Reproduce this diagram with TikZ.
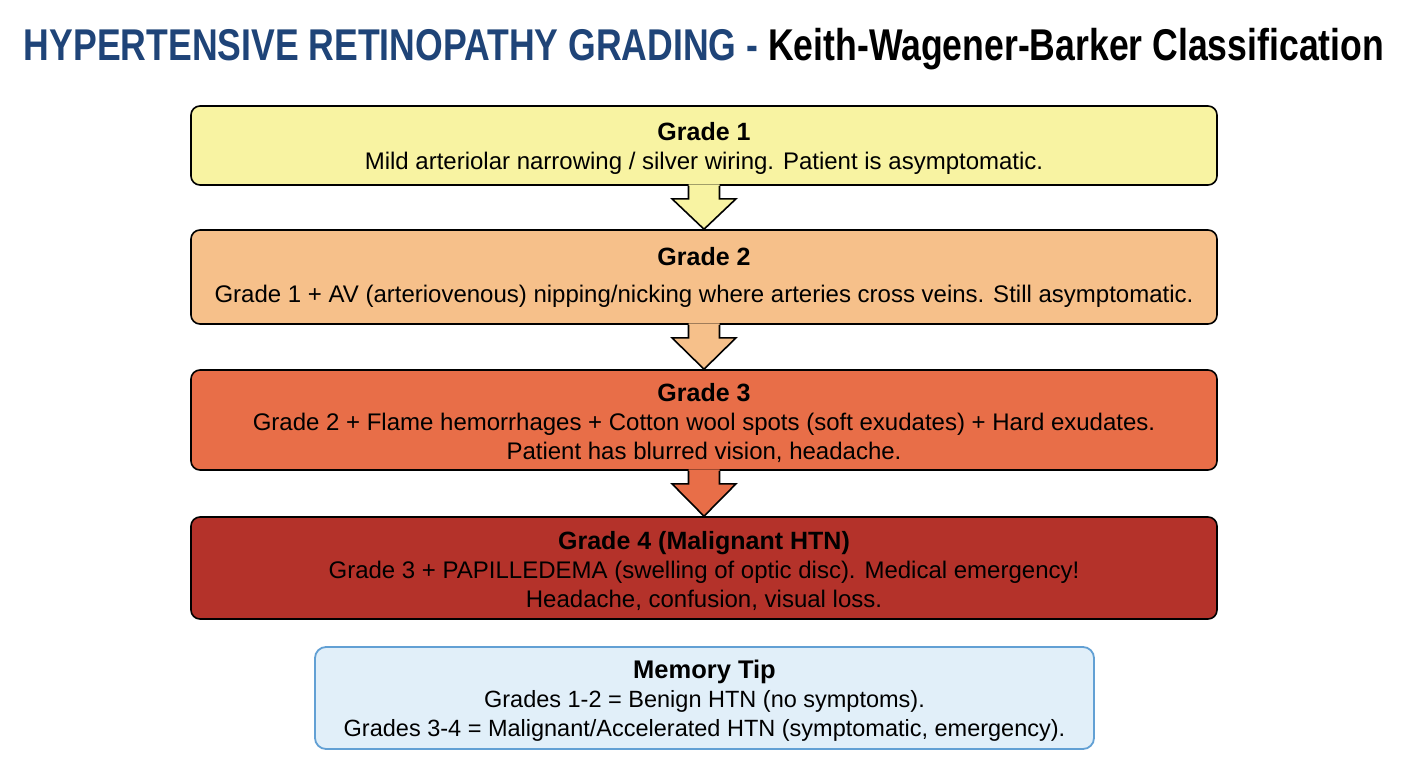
\documentclass[tikz,border=0pt]{standalone}
\usepackage{fontspec}
\setmainfont{Liberation Sans}
\newfontfamily\titlefont[FakeStretch=0.8]{Liberation Sans}
\usetikzlibrary{calc}

\definecolor{titleblue}{RGB}{31,68,120}
\definecolor{gradeone}{RGB}{248,243,162}
\definecolor{gradetwo}{RGB}{246,192,138}
\definecolor{gradethree}{RGB}{232,110,72}
\definecolor{gradefour}{RGB}{180,50,42}
\definecolor{tipfill}{RGB}{225,239,249}
\definecolor{tipline}{RGB}{98,160,212}

\begin{document}
\begin{tikzpicture}[x=1pt, y=-1pt,
    gradebox/.style={draw=black, line width=1.6pt, rounded corners=9pt,
        minimum width=1026pt, align=center, font=\fontsize{24}{29}\selectfont},
    tipbox/.style={draw=tipline, fill=tipfill, line width=1.8pt, rounded corners=11pt,
        minimum width=779pt, minimum height=102pt, align=center,
        font=\fontsize{23.5}{29}\selectfont}]
    \useasboundingbox (0,0) rectangle (1408,768);

    % Title
    \node (title) at (704,49) {\titlefont\fontsize{44.5}{50}\selectfont\bfseries
        \textcolor{titleblue}{HYPERTENSIVE RETINOPATHY GRADING -} Keith-Wagener-Barker Classification};

    % Grade boxes
    \node[gradebox, fill=gradeone, minimum height=79pt] (g1) at (704,145.5)
        {\rule{0pt}{24pt}{\fontsize{25}{29}\selectfont\bfseries Grade 1}\\
         Mild arteriolar narrowing / silver wiring. Patient is asymptomatic.};
    \node[gradebox, fill=gradetwo, minimum height=94pt] (g2) at (704,277)
        {{\fontsize{25}{29}\selectfont\bfseries Grade 2}\\[8pt]
         Grade 1 + AV (arteriovenous) nipping/nicking where arteries cross veins. Still asymptomatic.};
    \node[gradebox, fill=gradethree, minimum height=100pt] (g3) at (704,420)
        {\rule{0pt}{24pt}{\fontsize{25}{29}\selectfont\bfseries Grade 3}\\
         Grade 2 + Flame hemorrhages + Cotton wool spots (soft exudates) + Hard exudates.\\
         Patient has blurred vision, headache.};
    \node[gradebox, fill=gradefour, minimum height=102pt] (g4) at (704,568)
        {\rule{0pt}{24pt}{\fontsize{25}{29}\selectfont\bfseries Grade 4 (Malignant HTN)}\\
         Grade 3 + PAPILLEDEMA (swelling of optic disc). Medical emergency!\\
         Headache, confusion, visual loss.};

    % Block arrows between grades
    \foreach \from/\to/\col in {g1/g2/gradeone, g2/g3/gradetwo, g3/g4/gradethree} {
        \fill[\col] ($(\from.south)+(-15.5,-1.5)$) -- ($(\from.south)+(-15.5,13)$)
            -- ($(\from.south)+(-32,13)$) -- (\to.north) -- ($(\from.south)+(32,13)$)
            -- ($(\from.south)+(15.5,13)$) -- ($(\from.south)+(15.5,-1.5)$) -- cycle;
        \draw[line width=1.6pt, line join=miter] ($(\from.south)+(-15.5,0)$) -- ($(\from.south)+(-15.5,13)$)
            -- ($(\from.south)+(-32,13)$) -- (\to.north) -- ($(\from.south)+(32,13)$)
            -- ($(\from.south)+(15.5,13)$) -- ($(\from.south)+(15.5,0)$);
    }

    % Memory tip
    \node[tipbox] (tip) at (704.5,698)
        {\rule{0pt}{24pt}{\fontsize{25.5}{29}\selectfont\bfseries Memory Tip}\\
         Grades 1-2 = Benign HTN (no symptoms).\\
         Grades 3-4 = Malignant/Accelerated HTN (symptomatic, emergency).};
\end{tikzpicture}
\end{document}
